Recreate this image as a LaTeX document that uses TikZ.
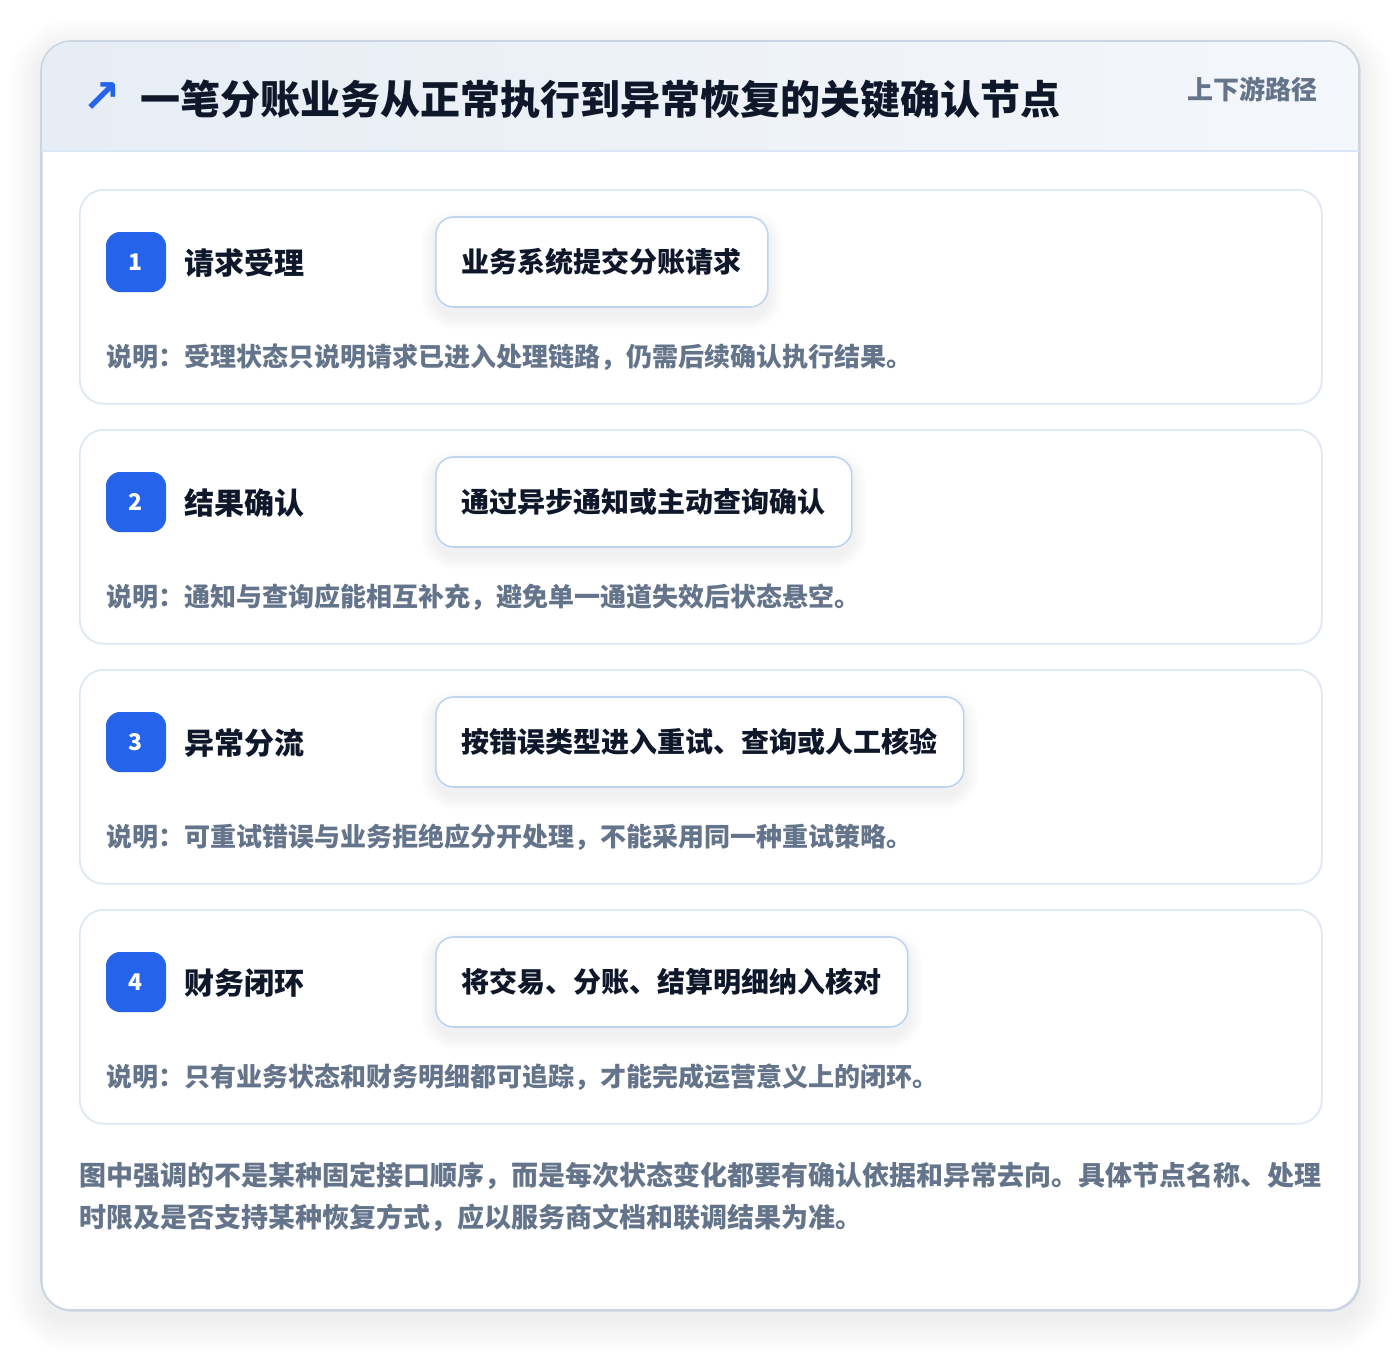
\documentclass[tikz,border=0pt]{standalone}
\usepackage{fontspec}
\setmainfont{Noto Sans CJK SC}
\newfontfamily\symfont{DejaVu Sans}
\usetikzlibrary{calc}
\definecolor{accent}{HTML}{2563EB}
\definecolor{ink}{HTML}{0F172A}
\definecolor{muted}{HTML}{64748B}
\definecolor{cardline}{HTML}{DCE6F2}
\definecolor{boxline}{HTML}{BED4F0}
\definecolor{outerline}{HTML}{CBD5E1}
\definecolor{headL}{HTML}{E7EDF5}
\definecolor{headR}{HTML}{F4F7FB}
\definecolor{headrule}{HTML}{DAE6F4}
\definecolor{shadowc}{HTML}{1E293B}
\newcommand{\fsz}[1]{\fontsize{#1pt}{#1pt}\selectfont}
\tikzset{
  stepcard/.style={draw=cardline, line width=1.6pt, fill=white, rounded corners=24pt,
    minimum width=1242pt, minimum height=214pt, inner sep=0pt, anchor=north west},
  badge/.style={fill=accent, rounded corners=14pt, minimum width=60pt, minimum height=60pt,
    inner sep=0pt, text=white, font=\fsz{23}\bfseries},
  steptitle/.style={anchor=west, inner sep=0pt, text=ink, font=\fsz{30}\bfseries},
  actionbox/.style={draw=boxline, line width=1.6pt, fill=white, rounded corners=18pt,
    minimum height=90pt, inner xsep=26pt, inner ysep=0pt, anchor=west, text=ink,
    font=\fsz{28}\bfseries},
  desc/.style={anchor=base west, inner sep=0pt, text=muted, font=\fsz{26}\bfseries},
  foot/.style={anchor=base west, inner sep=0pt, text=muted, font=\fsz{27}\bfseries},
}
\begin{document}
\begin{tikzpicture}[x=1pt,y=-1pt]
\useasboundingbox (0,0) rectangle (1400,1352);
\fill[white] (0,0) rectangle (1400,1352);
% outer soft shadow
\foreach \i in {1,...,16}{
  \pgfmathsetmacro{\r}{30+2*\i}
  \fill[shadowc, opacity=0.005, rounded corners=\r pt]
    ($(41,41)+(-2*\i,-2*\i+10)$) rectangle ($(1359,1310)+(2*\i,2*\i+10)$);
}
% outer card
\node[draw=outerline, line width=1.6pt, fill=white, rounded corners=30pt,
  minimum width=1318pt, minimum height=1269pt, inner sep=0pt, anchor=north west]
  (outer) at (41,41) {};
\begin{scope}
  \clip[rounded corners=30pt] (41,41) rectangle (1359,1310);
  \shade[left color=headL, right color=headR] (41,41) rectangle (1359,151);
\end{scope}
\draw[outerline, line width=1.6pt, rounded corners=30pt] (41,41) rectangle (1359,1310);
\draw[headrule, line width=1.6pt] (41,151) -- (1359,151);
% header
\node[anchor=center, inner sep=0pt, text=accent, font=\symfont\fsz{46}\bfseries] (icon) at (102,98) {↗};
\node[anchor=base west, inner sep=0pt, text=ink, font=\fsz{40}\bfseries] (title) at (140,114) {一笔分账业务从正常执行到异常恢复的关键确认节点};
\node[anchor=base east, inner sep=0pt, text=muted, font=\fsz{26}\bfseries] (tag) at (1318,99) {上下游路径};
% steps
\foreach \k/\name/\act/\note in {
  0/请求受理/业务系统提交分账请求/说明：受理状态只说明请求已进入处理链路，仍需后续确认执行结果。,
  1/结果确认/通过异步通知或主动查询确认/说明：通知与查询应能相互补充，避免单一通道失效后状态悬空。,
  2/异常分流/按错误类型进入重试、查询或人工核验/说明：可重试错误与业务拒绝应分开处理，不能采用同一种重试策略。,
  3/财务闭环/将交易、分账、结算明细纳入核对/说明：只有业务状态和财务明细都可追踪，才能完成运营意义上的闭环。}{
  \pgfmathsetmacro{\yo}{240*\k}
  \pgfmathtruncatemacro{\n}{\k+1}
  \node[stepcard] (card\n) at (79,189+\yo) {};
  \node[badge] (badge\n) at (136,262+\yo) {\n};
  \node[steptitle] (stitle\n) at (184,263+\yo) {\name};
  % measuring copy of the action box, for its shadow
  \node[actionbox, draw=none, fill=none, text opacity=0] (m\n) at (435,262+\yo) {\act};
  \foreach \j in {1,...,14}{
    \fill[shadowc, opacity=0.0035, rounded corners={18+\j}]
      ($(m\n.north west)+(-\j,-\j+8)$) rectangle ($(m\n.south east)+(\j,\j+8)$);
  }
  \node[actionbox] (act\n) at (435,262+\yo) {\act};
  \node[desc] (note\n) at (106,366+\yo) {\note};
}
% footer
\node[foot] (foot1) at (79,1185) {图中强调的不是某种固定接口顺序，而是每次状态变化都要有确认依据和异常去向。具体节点名称、处理};
\node[foot] (foot2) at (79,1227) {时限及是否支持某种恢复方式，应以服务商文档和联调结果为准。};
\end{tikzpicture}
\end{document}
